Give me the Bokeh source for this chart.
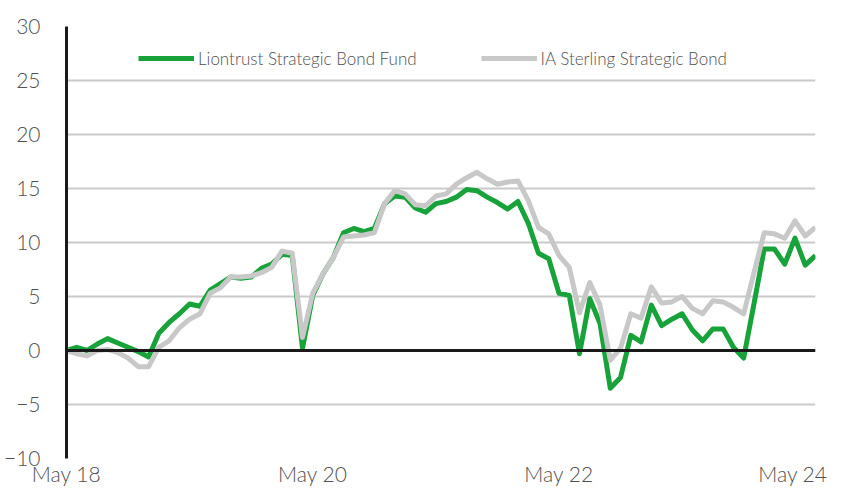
from bokeh.plotting import figure
from bokeh.models import Range1d, FixedTicker, Span, Legend, LegendItem
from bokeh.embed import file_html
from bokeh.resources import INLINE

# Cumulative performance (%), monthly points
fund = [0.0, 0.3, 0.0, 0.6, 1.1, 0.7, 0.3, -0.1, -0.6, 1.6,
        2.6, 3.4, 4.3, 4.1, 5.6, 6.2, 6.8, 6.7, 6.8, 7.6,
        8.0, 8.9, 8.8, 0.2, 5.1, 7.1, 8.6, 10.9, 11.3, 11.0,
        11.3, 13.6, 14.3, 14.2, 13.2, 12.8, 13.6, 13.8, 14.2, 14.9,
        14.8, 14.2, 13.7, 13.1, 13.8, 11.8, 9.0, 8.5, 5.3, 5.1,
        -0.3, 4.8, 2.5, -3.5, -2.5, 1.4, 0.8, 4.2, 2.3, 2.9,
        3.4, 1.9, 0.9, 2.0, 2.0, 0.3, -0.7, 4.3, 9.4, 9.4,
        8.0, 10.4, 7.9, 8.8]
sector = [0.0, -0.3, -0.5, 0.0, 0.1, -0.2, -0.7, -1.5, -1.5, 0.3,
          0.9, 2.1, 2.9, 3.4, 5.3, 5.8, 6.8, 6.8, 6.9, 7.2,
          7.7, 9.2, 9.0, 1.2, 5.3, 7.1, 8.6, 10.5, 10.6, 10.7,
          10.9, 13.6, 14.8, 14.5, 13.5, 13.4, 14.3, 14.5, 15.4, 16.0,
          16.5, 15.9, 15.4, 15.6, 15.7, 13.9, 11.4, 10.8, 8.8, 7.7,
          3.5, 6.3, 4.2, -0.9, 0.2, 3.4, 3.0, 5.9, 4.4, 4.5,
          5.0, 3.9, 3.4, 4.6, 4.5, 4.0, 3.4, 7.2, 10.9, 10.8,
          10.4, 12.0, 10.6, 11.4]
months = list(range(len(fund)))

x_tick_months = [0, 24, 48, 72]
x_tick_labels = ["May 18", "May 20", "May 22", "May 24"]
y_ticks = [-10, -5, 0, 5, 10, 15, 20, 25, 30]

series_names = ["Liontrust Strategic Bond Fund", "IA Sterling Strategic Bond"]
series_colors = ["#17a339", "#c8c8c8"]

FONT = "'Lato Light', Lato"
TXT = "#505050"

p = figure(width=827, height=488,
           x_range=Range1d(0, len(fund) - 1), y_range=Range1d(-10, 30),
           output_backend="svg", toolbar_location=None,
           min_border_left=57, min_border_right=12,
           min_border_top=26, min_border_bottom=0)
p.outline_line_color = None
p.background_fill_color = "white"

# axes
p.yaxis.ticker = FixedTicker(ticks=y_ticks)
p.xaxis.ticker = FixedTicker(ticks=x_tick_months)
p.xaxis.major_label_overrides = {m: l for m, l in zip(x_tick_months, x_tick_labels)}
for ax in (p.xaxis[0], p.yaxis[0]):
    ax.major_tick_line_color = None
    ax.minor_tick_line_color = None
    ax.major_label_text_font = FONT
    ax.major_label_text_font_size = "21px"
    ax.major_label_text_color = TXT
p.yaxis.axis_line_color = "#1a1a1a"
p.yaxis.axis_line_width = 3
p.yaxis.major_label_standoff = 20
p.xaxis.axis_line_color = None
p.xaxis.major_label_standoff = -4

p.xgrid.grid_line_color = None
p.ygrid.ticker = FixedTicker(ticks=y_ticks)
p.ygrid.grid_line_color = "#cacaca"
p.ygrid.grid_line_width = 2

zero = Span(location=0, dimension="width", line_color="#1a1a1a", line_width=3)
p.add_layout(zero)

r_fund = p.line(months, fund, line_color=series_colors[0], line_width=5, line_join="round")
r_sector = p.line(months, sector, line_color=series_colors[1], line_width=5, line_join="round")

legend = Legend(items=[LegendItem(label=series_names[0], renderers=[r_fund]),
                       LegendItem(label=series_names[1], renderers=[r_sector])],
                orientation="horizontal", location=(72, 388))
legend.border_line_color = None
legend.background_fill_alpha = 0
legend.padding = 0
legend.margin = 0
legend.spacing = 64
legend.glyph_width = 56
legend.glyph_height = 24
legend.label_height = 24
legend.label_standoff = 4
legend.label_text_font = FONT
legend.label_text_font_size = "17px"
legend.label_text_color = TXT
p.add_layout(legend, "center")

open("out.html", "w").write(file_html(p, INLINE))
